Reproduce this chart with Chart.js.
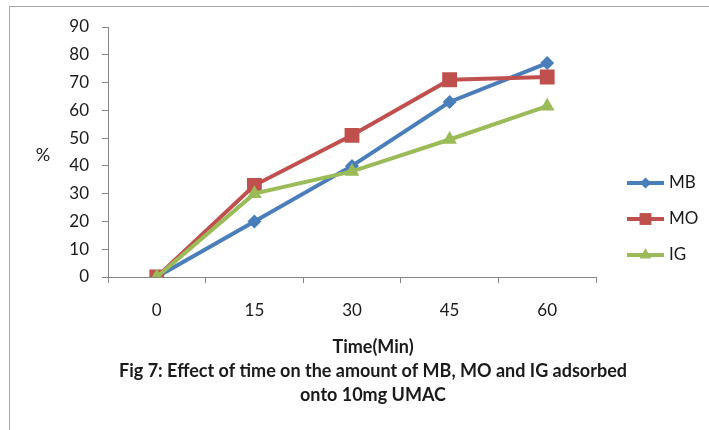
<!DOCTYPE html>
<html>
<head>
<meta charset="utf-8">
<script src="https://cdn.jsdelivr.net/npm/chart.js@4"></script>
<style>
  html, body { margin: 0; padding: 0; background: #fff; }
</style>
</head>
<body>
<canvas id="myChart" width="709" height="430"></canvas>
<script>
// chart data
const timeLabels = ['0', '15', '30', '45', '60'];
const mbValues = [0, 20, 40, 63, 77];
const moValues = [0, 33, 51, 71, 72];
const igValues = [0, 30, 38, 49.5, 61.5];
const yMin = 0;
const yMax = 90;
const yStep = 10;
const xTitle = 'Time(Min)';
const yTitle = '%';
const captionLines = ['Fig 7: Effect of time on the amount of MB, MO and IG adsorbed', 'onto 10mg UMAC'];

const axisColor = '#868686';
const textColor = '#1a1a1a';
const fontFamily = 'Lato, "Open Sans", sans-serif';

// frame, "%" label, axis title, caption and the legend
const extras = {
    id: 'extras',
    beforeDraw(chart) {
        const ctx = chart.ctx;
        ctx.save();
        ctx.strokeStyle = '#a6a6a6';
        ctx.lineWidth = 1;
        ctx.beginPath();
        ctx.moveTo(9.5, 430);
        ctx.lineTo(9.5, 6.5);
        ctx.lineTo(709, 6.5);
        ctx.stroke();
        ctx.restore();
    },
    afterDraw(chart) {
        const ctx = chart.ctx;
        ctx.save();
        ctx.fillStyle = textColor;
        ctx.textAlign = 'center';
        ctx.textBaseline = 'middle';
        ctx.font = '18px ' + fontFamily;
        ctx.fillText(yTitle, 43, 155);
        ctx.font = 'bold 18px ' + fontFamily;
        ctx.fillText(xTitle, 373, 347);
        ctx.fillText(captionLines[0], 373, 371, 516);
        ctx.fillText(captionLines[1], 373, 395);

        // legend: line with marker in the middle
        chart.data.datasets.forEach((ds, i) => {
            const y = 183 + i * 36;
            ctx.strokeStyle = ds.borderColor;
            ctx.fillStyle = ds.backgroundColor;
            ctx.lineWidth = ds.borderWidth;
            ctx.beginPath();
            ctx.moveTo(627, y);
            ctx.lineTo(664, y);
            ctx.stroke();
            Chart.helpers.drawPoint(ctx, {
                pointStyle: ds.pointStyle,
                radius: ds.pointRadius * 0.8,
                borderWidth: 0
            }, 645.5, y);
            ctx.fillStyle = textColor;
            ctx.font = '17px ' + fontFamily;
            ctx.textAlign = 'left';
            ctx.fillText(ds.label, 669, y);
        });
        ctx.restore();
    }
};

const ctx = document.getElementById('myChart').getContext('2d');
const myChart = new Chart(ctx, {
    type: 'line',
    data: {
        labels: timeLabels,
        datasets: [{
            label: 'MB',
            data: mbValues,
            order: 3,
            borderColor: '#4a7ebb',
            backgroundColor: '#4a7ebb',
            borderWidth: 4,
            pointStyle: 'rectRot',
            pointRadius: 7,
            pointBorderWidth: 0
        }, {
            label: 'MO',
            data: moValues,
            order: 2,
            borderColor: '#c0504d',
            backgroundColor: '#c0504d',
            borderWidth: 4,
            pointStyle: 'rect',
            pointRadius: 10.5,
            pointBorderWidth: 0
        }, {
            label: 'IG',
            data: igValues,
            order: 1,
            borderColor: '#9bbb59',
            backgroundColor: '#9bbb59',
            borderWidth: 4,
            pointStyle: 'triangle',
            pointRadius: 8.5,
            pointBorderWidth: 0
        }]
    },
    options: {
        responsive: false,
        animation: false,
        layout: {
            padding: { left: 0, top: 27, right: 113, bottom: 0 }
        },
        plugins: {
            legend: { display: false },
            tooltip: { enabled: false }
        },
        scales: {
            x: {
                offset: true,
                border: { display: true, color: axisColor, width: 1 },
                grid: {
                    offset: true,
                    drawOnChartArea: false,
                    drawTicks: true,
                    tickLength: 6,
                    color: axisColor
                },
                ticks: {
                    color: textColor,
                    font: { family: fontFamily, size: 17 },
                    padding: 17,
                    maxRotation: 0
                },
                afterFit(scale) { scale.height = 153; }
            },
            y: {
                min: yMin,
                max: yMax,
                border: { display: true, color: axisColor, width: 1 },
                grid: {
                    drawOnChartArea: false,
                    drawTicks: true,
                    tickLength: 6,
                    color: axisColor
                },
                ticks: {
                    stepSize: yStep,
                    color: textColor,
                    font: { family: fontFamily, size: 17 },
                    padding: 13
                },
                afterFit(scale) { scale.width = 108; }
            }
        }
    },
    plugins: [extras]
});
</script>
</body>
</html>
